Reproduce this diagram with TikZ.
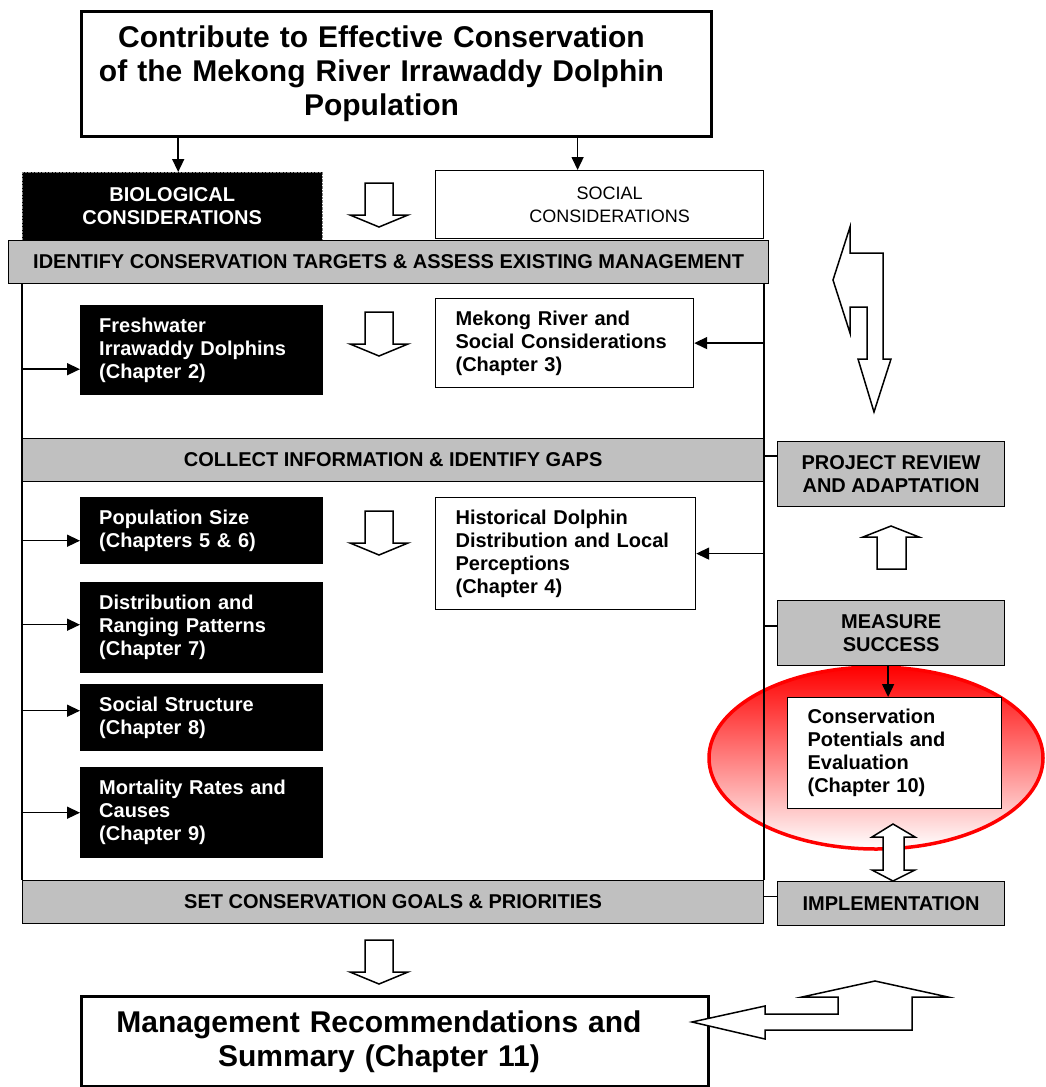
\documentclass[tikz,border=0pt]{standalone}
\usepackage{fontspec}
\setmainfont{Liberation Sans}
\usetikzlibrary{arrows.meta,positioning,calc}
\definecolor{barfill}{RGB}{192,192,192}

\begin{document}
\begin{tikzpicture}[x=1pt, y=-1pt,
    every node/.style={font=\fontsize{20}{23}\selectfont\bfseries},
    headbox/.style={draw, line width=3pt, fill=white, anchor=north west, align=center, text width=600pt, inner sep=0pt, font=\fontsize{30}{34}\selectfont\bfseries},
    darkbox/.style={fill=black, text=white, anchor=north west, text width=205pt, inner xsep=19pt, inner ysep=0pt, align=left},
    lightbox/.style={draw, line width=1.2pt, fill=white, anchor=north west, inner xsep=20pt, inner ysep=0pt, align=left},
    greybar/.style={draw, line width=1.2pt, fill=barfill, anchor=north west, inner sep=0pt, align=center},
    edge/.style={-{Triangle[length=13pt,width=12pt]}, line width=1.5pt},
    link/.style={line width=1.5pt},
    hollow/.style={draw, fill=white, line width=1.5pt, line join=miter},
]
\useasboundingbox (0,0) rectangle (1045,1087);

% Highlight behind the evaluation step
\path[draw=red, line width=3.5pt, top color=red, middle color=red!35, bottom color=white]
  (876,758) ellipse [x radius=167, y radius=91];

% Goal
\node[headbox, minimum width=630pt, minimum height=125pt] (goal) at (80,10)
  {\hspace*{-30pt}Contribute to Effective Conservation\\\hspace*{-30pt}of the Mekong River Irrawaddy Dolphin\\\hspace*{-30pt}Population};

% Considerations
\node[fill=black, draw=gray, densely dotted, text=white, anchor=north west, align=center,
  minimum width=300pt, minimum height=68pt, inner sep=0pt] (bio) at (22,172) {BIOLOGICAL\\CONSIDERATIONS};
\node[draw, line width=1.2pt, fill=white, anchor=north west, align=center, minimum width=328pt,
  minimum height=68pt, inner sep=0pt, font=\fontsize{18}{23}\selectfont] (soc) at (435,170)
  {\hspace*{20pt}SOCIAL\\\hspace*{20pt}CONSIDERATIONS};

\draw[edge] ([xshift=6pt]bio.north |- goal.south) -- ([xshift=6pt]bio.north);
\draw[edge] ([xshift=-22pt]soc.north |- goal.south) -- ([xshift=-22pt]soc.north);

% Steps
\node[greybar, minimum width=760pt, minimum height=43pt] (targets) at (8,240)
  {IDENTIFY CONSERVATION TARGETS \& ASSESS EXISTING MANAGEMENT};
\node[greybar, minimum width=741pt, minimum height=43pt] (gaps) at (22,438)
  {COLLECT INFORMATION \& IDENTIFY GAPS};
\node[greybar, minimum width=741pt, minimum height=43pt] (goals) at (22,880)
  {SET CONSERVATION GOALS \& PRIORITIES};

\draw[link] (targets.south -| gaps.west) -- (goals.north west);
\draw[link] (targets.south -| gaps.east) -- (goals.north east);

% Biological chapters
\node[darkbox, minimum height=90pt] (fresh) at (80,305) {Freshwater\\Irrawaddy Dolphins\\(Chapter 2)};
\node[darkbox, minimum height=67pt] (popsize) at (80,497) {Population Size\\(Chapters 5 \& 6)};
\node[darkbox, minimum height=91pt] (ranging) at (80,582) {Distribution and\\Ranging Patterns\\(Chapter 7)};
\node[darkbox, minimum height=67pt] (structure) at (80,684) {Social Structure\\(Chapter 8)};
\node[darkbox, minimum height=91pt] (mortality) at (80,767) {Mortality Rates and\\Causes\\(Chapter 9)};

\draw[edge] ([yshift=-19pt]fresh.west -| gaps.west) -- ([yshift=-19pt]fresh.west);
\draw[edge] ([yshift=-10pt]popsize.west -| gaps.west) -- ([yshift=-10pt]popsize.west);
\draw[edge] ([yshift=3pt]ranging.west -| gaps.west) -- ([yshift=3pt]ranging.west);
\draw[edge] ([yshift=7pt]structure.west -| gaps.west) -- ([yshift=7pt]structure.west);
\draw[edge] (mortality.west -| gaps.west) -- (mortality.west);

% Social chapters
\node[lightbox, text width=218pt, minimum height=89pt] (mekong) at (435,298)
  {Mekong River and\\Social Considerations\\(Chapter 3)};
\node[lightbox, text width=220pt, minimum height=112pt] (history) at (435,497)
  {Historical Dolphin\\Distribution and Local\\Perceptions\\(Chapter 4)};

\draw[edge] (mekong.east -| gaps.east) -- (mekong.east);
\draw[edge] (history.east -| gaps.east) -- (history.east);

% Project cycle
\node[greybar, minimum width=227pt, minimum height=65pt] (review) at (777,441) {PROJECT REVIEW\\AND ADAPTATION};
\node[greybar, minimum width=227pt, minimum height=65pt] (measure) at (777,600) {MEASURE\\SUCCESS};
\node[greybar, minimum width=227pt, minimum height=44pt] (impl) at (777,881) {IMPLEMENTATION};
\node[lightbox, text width=174pt, minimum height=111pt] (potential) at (787,697)
  {Conservation\\Potentials and\\Evaluation\\(Chapter 10)};

\draw[link] ([yshift=18pt]review.west -| gaps.east) -- ([yshift=18pt]review.west);
\draw[link] ([yshift=7pt]measure.west -| gaps.east) -- ([yshift=7pt]measure.west);
\draw[link] ([yshift=7pt]impl.west -| gaps.east) -- ([yshift=7pt]impl.west);
\draw[edge] ([xshift=-3pt]measure.south) -- ([xshift=-3pt]measure.south |- potential.north);

% Summary
\node[headbox, minimum width=627pt, minimum height=90pt] (summary) at (80,995)
  {\hspace*{-32pt}Management Recommendations and\\\hspace*{-32pt}Summary (Chapter 11)};

% Block arrows
\foreach \ay in {183,312,511,940}
  \draw[hollow, shift={(379,\ay)}] (-14,0) -- (14,0) -- (14,32) -- (29,32) -- (0,44) -- (-29,32) -- (-14,32) -- cycle;
\draw[hollow] (877,569) -- (877,537) -- (863,537) -- (891,526) -- (919,537) -- (906,537) -- (906,569) -- cycle;
\draw[hollow] (893,824) -- (915,837) -- (904,837) -- (904,870) -- (915,870) -- (893,881)
  -- (872,870) -- (883,870) -- (883,837) -- (872,837) -- cycle;
\draw[hollow] (833,280) -- (850,227) -- (850,253) -- (883,253) -- (883,359) -- (891,359) -- (874,412)
  -- (858,359) -- (867,359) -- (867,307) -- (850,307) -- (850,333) -- cycle;
\draw[hollow] (692,1022) -- (765,1006) -- (765,1014) -- (838,1014) -- (838,997) -- (802,997) -- (875,981)
  -- (948,997) -- (912,997) -- (912,1030) -- (765,1030) -- (765,1039) -- cycle;

\end{tikzpicture}
\end{document}
